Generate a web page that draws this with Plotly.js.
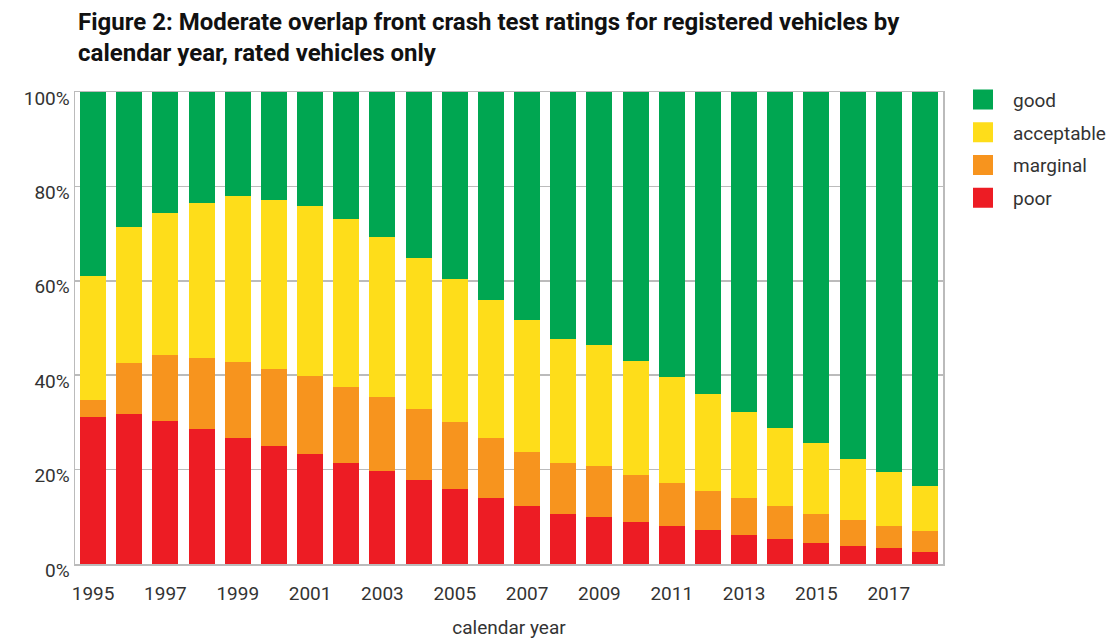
<!DOCTYPE html>
<html>
<head>
<meta charset="utf-8">
<script src="https://cdn.plot.ly/plotly-3.0.1.min.js"></script>
<style>
  body { margin: 0; background: #fff; }
  #chart { width: 1115px; height: 642px; }
</style>
</head>
<body>
<div id="chart"></div>
<script>
// calendar years
const years = [1995, 1996, 1997, 1998, 1999, 2000, 2001, 2002, 2003, 2004, 2005, 2006,
               2007, 2008, 2009, 2010, 2011, 2012, 2013, 2014, 2015, 2016, 2017, 2018];

// share of rated vehicles (%) by rating
const poor       = [31.2, 31.7, 30.2, 28.5, 26.8, 25.1, 23.4, 21.5, 19.6, 17.9, 15.8, 13.9,
                    12.2, 10.7, 10.0,  9.0,  8.1,  7.3,  6.2,  5.4,  4.5,  3.9,  3.3,  2.6];
const marginal   = [ 3.6, 10.8, 14.0, 15.2, 15.9, 16.3, 16.5, 16.1, 15.7, 15.0, 14.2, 12.9,
                    11.6, 10.6, 10.8,  9.9,  9.1,  8.2,  7.7,  6.8,  6.2,  5.5,  4.8,  4.3];
const acceptable = [26.3, 28.8, 30.1, 32.7, 35.2, 35.8, 35.9, 35.4, 33.9, 32.0, 30.3, 29.2,
                    28.0, 26.3, 25.5, 24.2, 22.5, 20.6, 18.4, 16.7, 15.0, 12.9, 11.3,  9.7];
const good       = [38.9, 28.7, 25.7, 23.6, 22.1, 22.8, 24.2, 27.0, 30.8, 35.1, 39.7, 44.0,
                    48.2, 52.4, 53.7, 56.9, 60.3, 63.9, 67.7, 71.1, 74.3, 77.7, 80.6, 83.4];

const tickYears = [1995, 1997, 1999, 2001, 2003, 2005, 2007, 2009, 2011, 2013, 2015, 2017];

const colors = {
    poor: "#ED1C24",
    marginal: "#F7941E",
    acceptable: "#FEDD1A",
    good: "#00A651"
};

const font = "Roboto, sans-serif";

function barTrace(vals, name) {
    return {
        type: "bar",
        x: years,
        y: vals,
        name: name,
        marker: {color: colors[name], line: {width: 0}},
        showlegend: false
    };
}

// legend entries drawn as big squares
function legendTrace(name) {
    return {
        type: "scatter",
        mode: "markers",
        x: [null],
        y: [null],
        name: name,
        legendgroup: name,
        marker: {symbol: "square", size: 16, color: colors[name],
                 line: {width: 4, color: colors[name]}},
        hoverinfo: "skip"
    };
}

const data = [
    barTrace(poor, "poor"),
    barTrace(marginal, "marginal"),
    barTrace(acceptable, "acceptable"),
    barTrace(good, "good"),
    legendTrace("good"),
    legendTrace("acceptable"),
    legendTrace("marginal"),
    legendTrace("poor")
];

const layout = {
    width: 1115,
    height: 642,
    barmode: "stack",
    bargap: 0.28,
    paper_bgcolor: "#fff",
    plot_bgcolor: "#fff",
    font: {family: font, size: 19, color: "#333"},
    margin: {l: 75, r: 172, t: 92, b: 78},
    title: {
        text: "<b>Figure 2: Moderate overlap front crash test ratings for registered vehicles by<br>calendar year, rated vehicles only</b>",
        font: {family: font, size: 24, color: "#111"},
        x: 0.07, xanchor: "left",
        y: 0.953, yanchor: "top"
    },
    xaxis: {
        type: "category",
        tickmode: "array",
        tickvals: tickYears,
        ticktext: tickYears.map(String),
        ticks: "",
        showgrid: false,
        showline: true,
        linecolor: "#bbb",
        linewidth: 1.5,
        mirror: true,
        ticklabelstandoff: 12,
        tickfont: {size: 19, color: "#333"},
        title: {text: "calendar year", font: {size: 19, color: "#333"}, standoff: 16}
    },
    yaxis: {
        range: [0, 100],
        tickvals: [0, 20, 40, 60, 80, 100],
        ticktext: ["0%", "20%", "40%", "60%", "80%", "100%"],
        ticks: "",
        showgrid: true,
        gridcolor: "#bbb",
        gridwidth: 1.5,
        showline: true,
        linecolor: "#bbb",
        linewidth: 1.5,
        mirror: true,
        zeroline: false,
        ticklabelshift: 6,
        tickfont: {size: 19, color: "#333"}
    },
    legend: {
        xref: "container", yref: "container",
        x: 0.8547, xanchor: "left",
        y: 0.8743, yanchor: "top",
        font: {size: 19, color: "#333"},
        tracegroupgap: 5,
        itemwidth: 50
    }
};

Plotly.newPlot("chart", data, layout, {displayModeBar: false, staticPlot: true});
</script>
</body>
</html>
